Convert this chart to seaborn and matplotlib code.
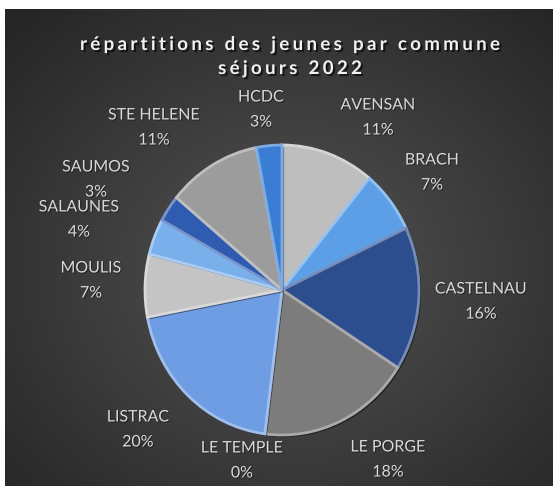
import numpy as np
import matplotlib
matplotlib.use("Agg")
import matplotlib.pyplot as plt
import matplotlib.patheffects as pe
from matplotlib.colors import to_rgb
from matplotlib.font_manager import FontProperties, findfont, get_font
from matplotlib.ft2font import LOAD_NO_HINTING
import seaborn as sns

# Share of young participants per commune, stays 2022 (clockwise from 12 o'clock)
communes = ["AVENSAN", "BRACH", "CASTELNAU", "LE PORGE", "LE TEMPLE", "LISTRAC",
            "MOULIS", "SALAUNES", "SAUMOS", "STE HELENE", "HCDC"]
parts = [11, 7, 16, 18, 0, 20, 7, 4, 3, 11, 3]

slice_colors = ["#BEBEBE", "#5C9FE6", "#2C4E8E", "#7C7C7C", "#A5A5A5", "#6E9DE4",
                "#C4C4C4", "#79B0EC", "#2F5CB0", "#9C9C9C", "#3A7ED4"]

title_lines = ["répartitions des jeunes par commune", "séjours 2022"]

sns.set_theme(style="white")
plt.rcParams["font.family"] = ["Lato", "DejaVu Sans"]

W, H = 553, 486
DPI = 100
fig = plt.figure(figsize=(W / DPI, H / DPI), dpi=DPI, facecolor="white")


def fx(px):
    return px / W


def fy(py):
    return 1 - py / H


# dark radial-gradient panel
bg = fig.add_axes([fx(5), 0, (W - 5) / W, (H - 9) / H])
yy, xx = np.mgrid[0:1:400j, 0:1:400j]
r = np.sqrt(((xx - 0.52) / 0.72) ** 2 + ((yy - 0.55) / 0.72) ** 2)
t = np.clip(r, 0, 1)[..., None]
inner = np.array(to_rgb("#545454"))
outer = np.array(to_rgb("#262626"))
bg.imshow(inner * (1 - t) + outer * t, aspect="auto", extent=(0, 1, 0, 1))
bg.set_axis_off()

# pie (slightly elliptical footprint)
cx, cy, rx, ry = 282, 290, 137, 145
pad = 1.06
ax = fig.add_axes([fx(cx - rx * pad), fy(cy + ry * pad), 2 * rx * pad / W, 2 * ry * pad / H])
wedges, _ = ax.pie(parts, colors=slice_colors, startangle=90, counterclock=False,
                   radius=1.0,
                   wedgeprops=dict(linewidth=2.0, edgecolor="#5a5a5a"))
for w, c in zip(wedges, slice_colors):
    rgb = np.array(to_rgb(c))
    hi = tuple(rgb + (1 - rgb) * 0.35)
    w.set_edgecolor(hi)
    w.set_path_effects([pe.SimplePatchShadow(offset=(1.5, -1.5), shadow_rgbFace="black", alpha=0.45),
                        pe.Normal()])
ax.set_aspect("auto")
ax.set_xlim(-pad, pad)
ax.set_ylim(-pad, pad)
ax.set_axis_off()

# data labels: name above, percentage below
label_xy = [(378, 118), (432, 173), (481, 302), (388, 460), (242, 461), (138, 430),
            (91, 281), (79, 220), (96, 180), (154, 128), (261, 110)]
lab_fx = [pe.withSimplePatchShadow(offset=(0.8, -0.8), shadow_rgbFace="black", alpha=0.35)]
for name, val, (lx, ly) in zip(communes, parts, label_xy):
    fig.text(fx(lx), fy(ly - 12.5), name, ha="center", va="center", fontsize=11.5,
             color="#D9D9D9", path_effects=lab_fx)
    fig.text(fx(lx), fy(ly + 12.5), f"{val}%", ha="center", va="center", fontsize=11.5,
             color="#D9D9D9", path_effects=lab_fx)

# title with letter tracking: glyphs advanced one by one using the font's own metrics
tfx = [pe.withSimplePatchShadow(offset=(1.5, -1.5), shadow_rgbFace="black", alpha=0.6)]
tsize = 13.5
tprop = FontProperties(family="Lato", weight="bold", size=tsize)
ft = get_font(findfont(tprop))
ft.set_size(tsize, 72)  # metrics in points


def advance_px(ch):
    g = ft.load_char(ord(ch), flags=LOAD_NO_HINTING)
    return g.linearHoriAdvance / 65536 * DPI / 72


title_cx = 290
line1_width = 420  # px, tracked width of the first title line
adv1 = [advance_px(ch) for ch in title_lines[0]]
tracking = (line1_width - sum(adv1)) / (len(title_lines[0]) - 1)
for line, base in zip(title_lines, (50, 74)):
    adv = [advance_px(ch) for ch in line]
    total = sum(adv) + tracking * (len(line) - 1)
    x = title_cx - total / 2
    for ch, a in zip(line, adv):
        if ch != " ":
            fig.text(fx(x + a / 2), fy(base), ch, ha="center", va="baseline",
                     fontproperties=tprop, color="#F2F2F2", path_effects=tfx)
        x += a + tracking

fig.savefig("out.png", dpi=DPI, facecolor="white")
